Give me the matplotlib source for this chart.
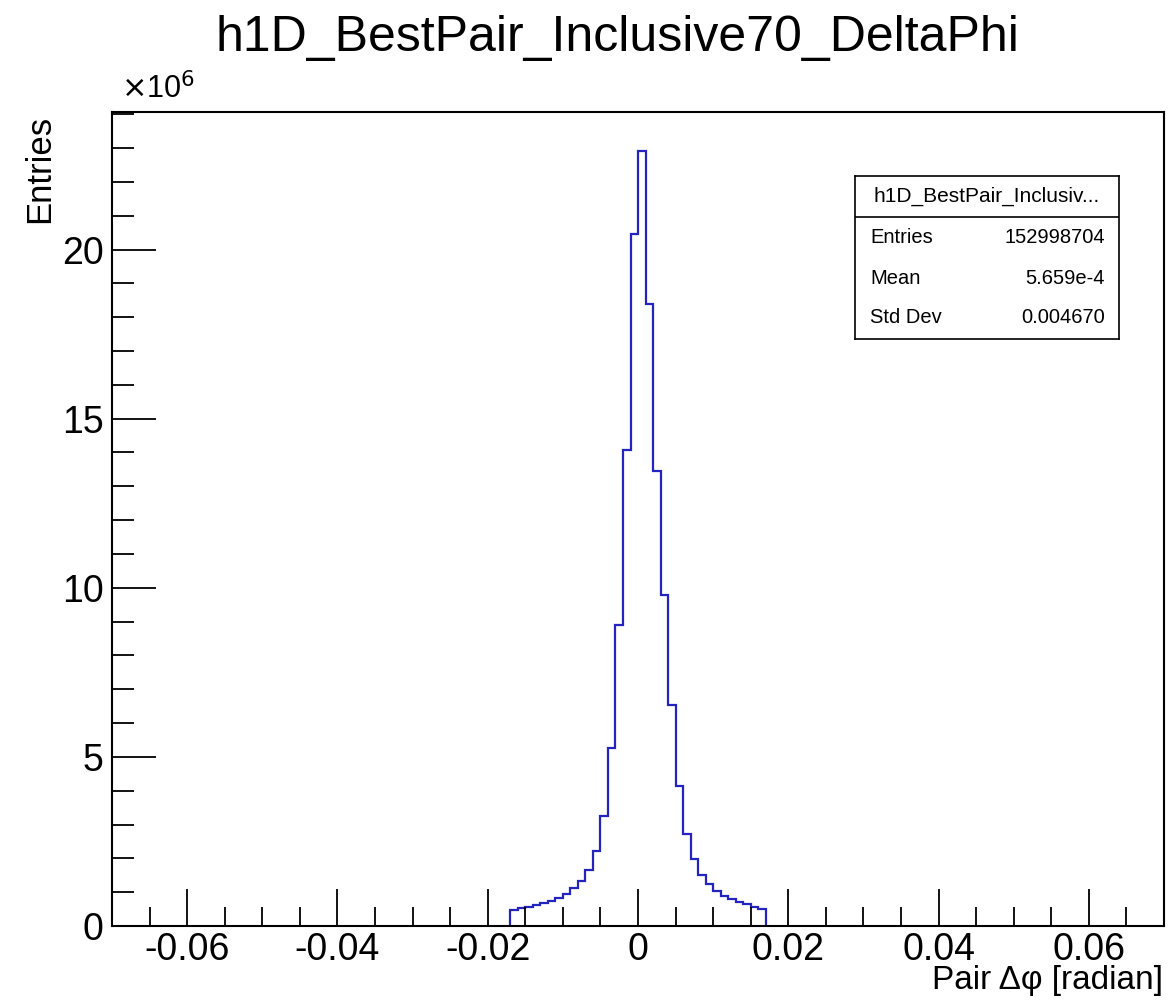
import numpy as np
import matplotlib
matplotlib.use("Agg")
import matplotlib.pyplot as plt
from matplotlib.ticker import MultipleLocator

plt.rcParams['font.family'] = ['Liberation Sans', 'DejaVu Sans']
plt.rcParams['axes.unicode_minus'] = False

# histogram contents (entries / 1e6), bins of width 0.001 from -0.017 to 0.017
bin_low = -0.017
bin_width = 0.001
entries_M = [0.47, 0.52, 0.57, 0.62, 0.69, 0.74, 0.84, 0.94, 1.11, 1.33,
             1.67, 2.22, 3.24, 5.27, 8.89, 14.08, 20.46, 22.92, 18.38, 13.44,
             9.80, 6.52, 4.14, 2.72, 1.97, 1.51, 1.24, 1.04, 0.89, 0.79,
             0.71, 0.64, 0.57, 0.51]

title = "h1D_BestPair_Inclusive70_DeltaPhi"
stat_names = ["Entries", "Mean", "Std Dev"]
stat_values = ["152998704", "5.659e-4", "0.004670"]

edges = bin_low + bin_width * np.arange(len(entries_M) + 1)

fig = plt.figure(figsize=(11.68, 10.06), dpi=100)
ax = fig.add_axes([0.0959, 0.0795, 0.9007, 0.8092])

ax.stairs(entries_M, edges, baseline=0, color='#2323c0', linewidth=1.6)

ax.set_xlim(-0.07, 0.07)
ax.set_ylim(0, max(entries_M) * 1.05)

ax.xaxis.set_major_locator(MultipleLocator(0.02))
ax.xaxis.set_minor_locator(MultipleLocator(0.005))
ax.yaxis.set_major_locator(MultipleLocator(5))
ax.yaxis.set_minor_locator(MultipleLocator(1))
ax.xaxis.set_major_formatter(plt.FuncFormatter(lambda v, p: "0" if abs(v) < 1e-9 else f"{v:g}"))

ax.tick_params(which='major', direction='in', length=27, width=1.3, labelsize=27)
ax.tick_params(which='minor', direction='in', length=14, width=1.3)
ax.tick_params(axis='x', which='major', pad=4)
ax.tick_params(axis='y', which='major', length=32, pad=6)
ax.tick_params(axis='y', which='minor', length=16)
for s in ax.spines.values():
    s.set_linewidth(1.5)

fig.text(0.529, 0.962, title, ha='center', va='center', fontsize=36)
fig.text(0.104, 0.911, r"$\times$10$^{6}$", ha='left', va='center', fontsize=22)
fig.text(0.034, 0.886, "Entries", rotation=90, ha='center', va='top', fontsize=25)
fig.text(0.996, 0.025, "Pair \u0394\u03c6 [radian]", ha='right', va='center', fontsize=24)

# stats box
sb = fig.add_axes([0.732, 0.663, 0.226, 0.162])
sb.set_xticks([])
sb.set_yticks([])
sb.set_xlim(0, 1)
sb.set_ylim(0, 1)
for s in sb.spines.values():
    s.set_linewidth(1.2)
sb.axhline(0.748, color='black', linewidth=1.2)
sb.text(0.5, 0.877, "h1D_BestPair_Inclusiv...", ha='center', va='center', fontsize=15)
for name, val, yy in zip(stat_names, stat_values, [0.626, 0.374, 0.129]):
    sb.text(0.057, yy, name, ha='left', va='center', fontsize=14.5)
    sb.text(0.947, yy, val, ha='right', va='center', fontsize=14.5)

fig.savefig("out.png", dpi=100)
